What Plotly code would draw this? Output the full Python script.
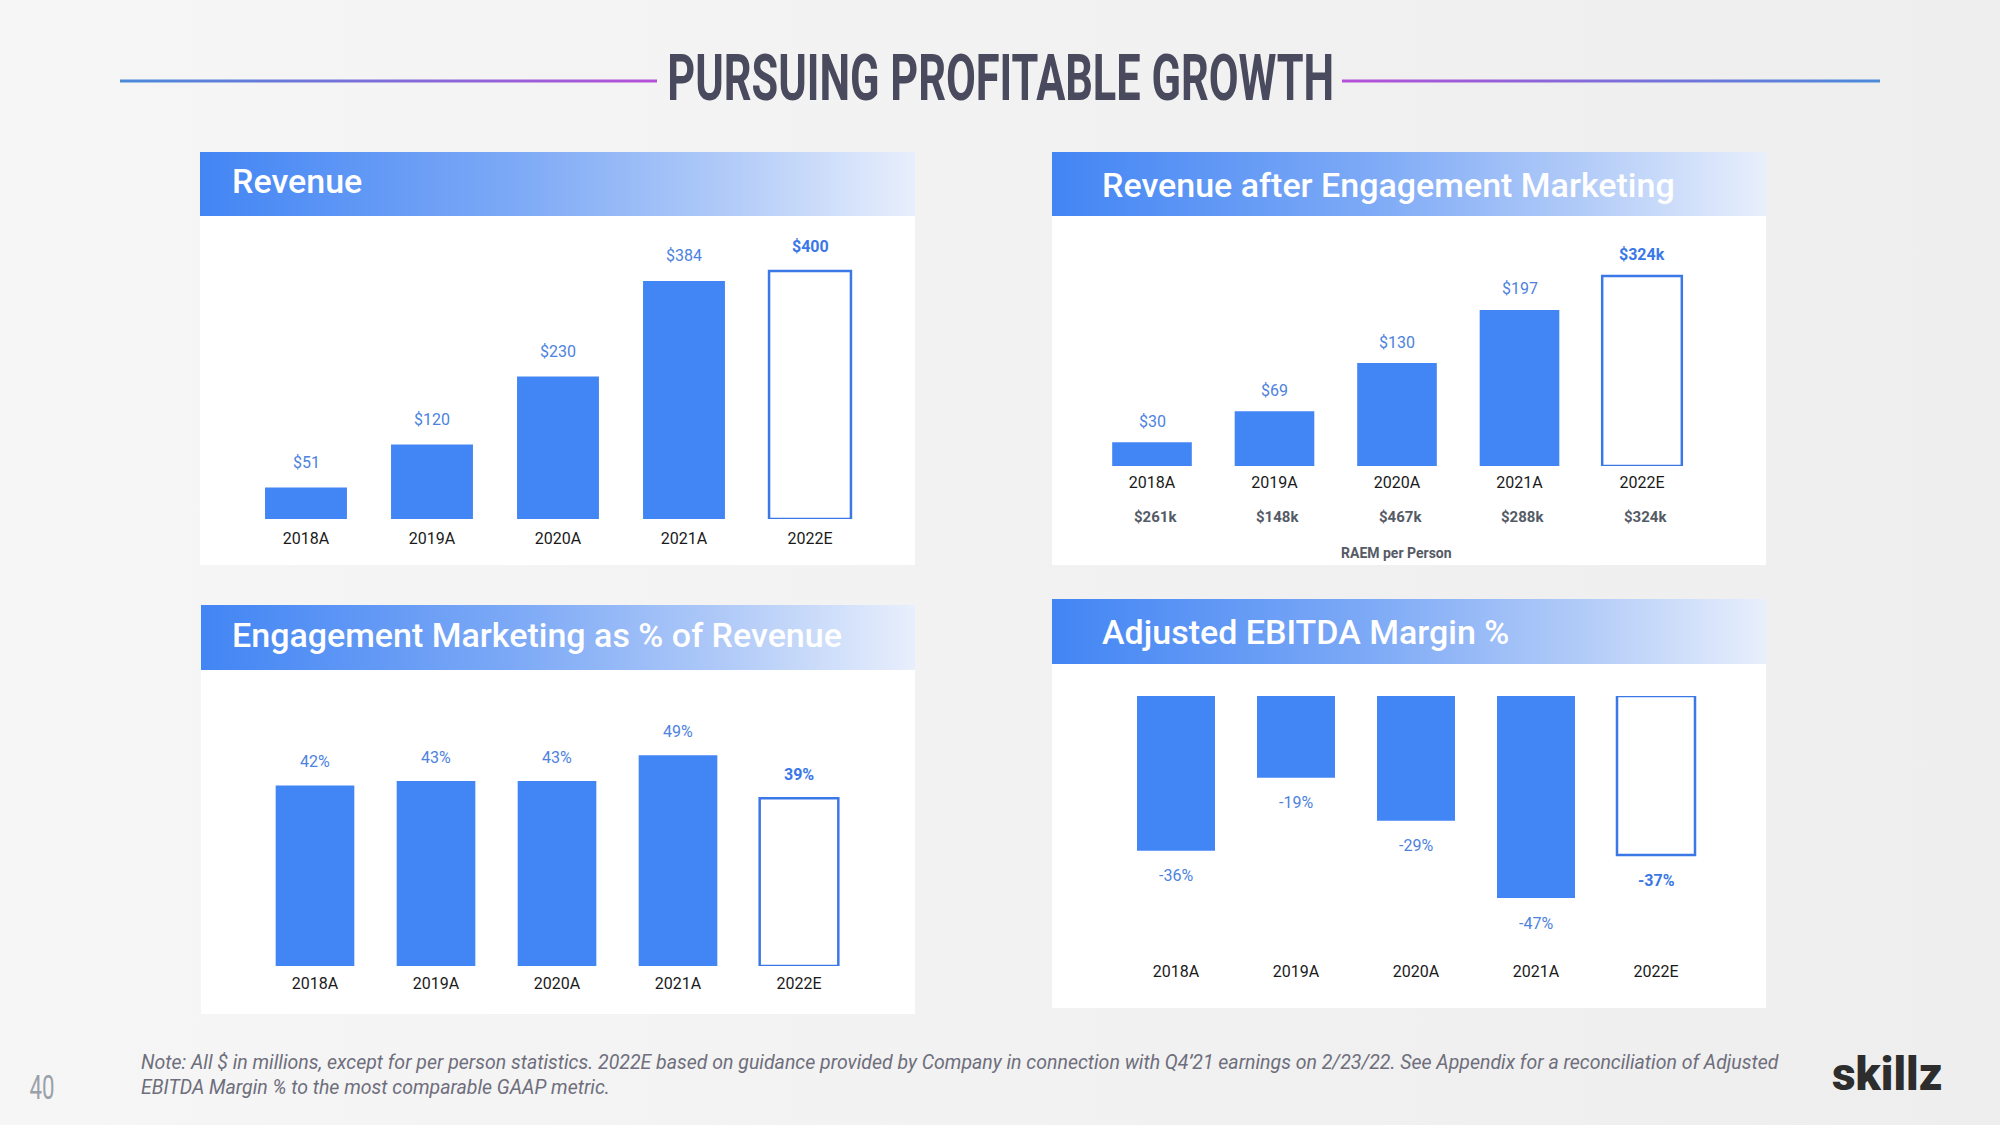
import plotly.graph_objects as go

W, H = 2000, 1125

# ---------------- data ----------------
categories = ["2018A", "2019A", "2020A", "2021A", "2022E"]
revenue = [51, 120, 230, 384, 400]
revenue_labels = ["$51", "$120", "$230", "$384", "$400"]
raem = [30, 69, 130, 197, 240]
raem_labels = ["$30", "$69", "$130", "$197", "$324k"]
raem_per_person = ["$261k", "$148k", "$467k", "$288k", "$324k"]
em_pct = [42, 43, 43, 49, 39]
em_labels = ["42%", "43%", "43%", "49%", "39%"]
ebitda_margin = [-36, -19, -29, -47, -37]
ebitda_labels = ["-36%", "-19%", "-29%", "-47%", "-37%"]

panel_titles = ["Revenue", "Revenue after Engagement Marketing",
                "Engagement Marketing as % of Revenue", "Adjusted EBITDA Margin %"]
page_title = "PURSUING PROFITABLE GROWTH"
footnote = ("Note: All $ in millions, except for per person statistics. 2022E based on guidance provided by "
            "Company in connection with Q4\u201921 earnings on 2/23/22. See Appendix for a reconciliation of Adjusted"
            "<br>EBITDA Margin % to the most comparable GAAP metric.")

# ---------------- style ----------------
BLUE = "#4285f4"
OUTLINE = "#3b78e7"
LABEL_BLUE = "#4d82e0"
FONT = "Roboto, 'Noto Sans', sans-serif"
HEADER_SCALE = [[0, "#4285f4"], [0.45, "#7eaaf6"], [0.75, "#b3ccf8"], [1, "#e8effc"]]
LINE_SCALE_L = [[0, "#4a8bd9"], [1, "#b650d8"]]
LINE_SCALE_R = [[0, "#b650d8"], [1, "#4a8bd9"]]

fills = ["#ffffff" if c.endswith("E") else BLUE for c in categories]
lcolors = [OUTLINE if c.endswith("E") else BLUE for c in categories]
lwidths = [2.5 if c.endswith("E") else 0 for c in categories]

fig = go.Figure()


def rect(x0, y0, x1, y1, color=None, scale=None):
    kw = dict(x=[x0, x1, x1, x0, x0], y=[y0, y0, y1, y1, y0], fill="toself", mode="none",
              xaxis="x", yaxis="y", hoverinfo="skip", showlegend=False)
    if scale:
        kw["fillgradient"] = dict(type="horizontal", colorscale=scale)
    else:
        kw["fillcolor"] = color
    fig.add_trace(go.Scatter(**kw))


# background + panels on a full-page canvas
rect(0, 0, W, H, scale=[[0, "#f6f6f6"], [0.6, "#f1f1f1"], [1, "#eeeeee"]])
panels = [  # (x0, header_top, header_bottom, body_bottom, x1)
    (200, 152, 216, 565, 915),
    (1052, 152, 216, 565, 1766),
    (201, 605, 670, 1014, 915),
    (1052, 599, 664, 1008, 1766),
]
for (x0, ht, hb, bb, x1) in panels:
    rect(x0, hb, x1, bb, color="#ffffff")
    rect(x0, ht, x1, hb, scale=HEADER_SCALE)
# title rule lines
rect(120, 79.5, 657, 82.5, scale=LINE_SCALE_L)
rect(1342, 79.5, 1880, 82.5, scale=LINE_SCALE_R)


def xdom(c0, step):
    return [(c0 - step / 2) / W, (c0 + step * 4.5) / W]


def ydom(ptop, pbot):
    return [1 - pbot / H, 1 - ptop / H]


# subplot geometry
geo = {
    2: dict(c0=306, step=126, top=519 - 420 * 0.62, bot=519, rng=[0, 420]),
    3: dict(c0=1152, step=122.5, top=466 - 300 * 0.792, bot=466, rng=[0, 300]),
    4: dict(c0=315, step=121, top=966 - 60 * 4.3, bot=966, rng=[0, 60]),
    5: dict(c0=1176, step=120, top=696, bot=696 + 60 * 4.3, rng=[-60, 0]),
}
series = {2: revenue, 3: raem, 4: em_pct, 5: ebitda_margin}
labels = {2: revenue_labels, 3: raem_labels, 4: em_labels, 5: ebitda_labels}
shifts = {2: 25, 3: 21, 4: 24, 5: -25}
standoff = {2: 8, 3: 5, 4: 6, 5: 6}

annotations = []
layout_axes = dict(
    xaxis=dict(domain=[0, 1], range=[0, W], visible=False, fixedrange=True),
    yaxis=dict(domain=[0, 1], range=[H, 0], visible=False, fixedrange=True),
)
for i in (2, 3, 4, 5):
    g = geo[i]
    fig.add_trace(go.Bar(
        x=categories, y=series[i], xaxis=f"x{i}", yaxis=f"y{i}",
        marker=dict(color=fills, line=dict(color=lcolors, width=lwidths)),
        hoverinfo="skip", showlegend=False))
    layout_axes[f"xaxis{i}"] = dict(
        domain=xdom(g["c0"], g["step"]), anchor=f"y{i}", showline=False, showgrid=False,
        zeroline=False, ticks="", ticklabelstandoff=standoff[i],
        tickfont=dict(family=FONT, size=16, color="#1a1a1a"), fixedrange=True)
    layout_axes[f"yaxis{i}"] = dict(
        domain=ydom(g["top"], g["bot"]), anchor=f"x{i}", range=g["rng"], visible=False,
        fixedrange=True)
    for c, v, t in zip(categories, series[i], labels[i]):
        est = c.endswith("E")
        annotations.append(dict(
            x=c, y=v, xref=f"x{i}", yref=f"y{i}", text=t, showarrow=False,
            xanchor="center", yanchor="middle", yshift=shifts[i],
            font=dict(family=FONT, size=16,
                      color=OUTLINE if est else LABEL_BLUE,
                      weight=700 if est else 400)))

# RAEM per person row
for c, t in zip(categories, raem_per_person):
    annotations.append(dict(x=c, y=1 - 517 / H, xref="x3", yref="paper", xshift=3, text=t,
                            showarrow=False, xanchor="center", yanchor="middle",
                            font=dict(family=FONT, size=15, color="#555b66", weight=700)))
annotations.append(dict(x=1396 / W, y=1 - 553 / H, xref="paper", yref="paper", text="RAEM per Person",
                        showarrow=False, xanchor="center", yanchor="middle",
                        font=dict(family=FONT, size=14, color="#555b66", weight=700)))

# panel header titles
header_pos = [(230, 181), (1100, 185), (230, 635), (1100, 632)]
for (px, py), t in zip(header_pos, panel_titles):
    annotations.append(dict(x=px / W, y=1 - py / H, xref="paper", yref="paper", text=t,
                            showarrow=False, xanchor="left", yanchor="middle",
                            font=dict(family=FONT, size=34, color="#ffffff", weight=500)))

# page title
annotations.append(dict(x=0.5, y=1 - 78 / H, xref="paper", yref="paper", text=page_title,
                        showarrow=False, xanchor="center", yanchor="middle",
                        font=dict(family="Roboto, sans-serif", size=64, color="#4a4a5e", weight=700)))
# footnote
annotations.append(dict(x=139 / W, y=1 - 1075 / H, xref="paper", yref="paper", text=footnote,
                        showarrow=False, xanchor="left", yanchor="middle", align="left",
                        font=dict(family=FONT, size=19.5, color="#6e6e7c", style="italic")))
# page number
annotations.append(dict(x=42 / W, y=1 - 1087 / H, xref="paper", yref="paper", text="40",
                        showarrow=False, xanchor="center", yanchor="middle",
                        font=dict(family="Roboto, sans-serif", size=34, color="#9aa0aa")))
# logo
annotations.append(dict(x=1887 / W, y=1 - 1074 / H, xref="paper", yref="paper", text="skillz",
                        showarrow=False, xanchor="center", yanchor="middle",
                        font=dict(family="Roboto, sans-serif", size=46, color="#2d2d2d", weight=900)))

fig.update_layout(
    width=W, height=H, margin=dict(l=0, r=0, t=0, b=0),
    paper_bgcolor="#f2f2f2", plot_bgcolor="rgba(0,0,0,0)",
    bargap=0.35, showlegend=False, annotations=annotations,
    **layout_axes)

# remove default page margin; condense the title (Oswald-like) and page number horizontally
post_js = """
document.body.style.margin = '0';
document.body.style.overflow = 'hidden';
var gd = document.getElementById('{plot_id}');
function squeeze(prefix, targetW) {
  gd.querySelectorAll('text.annotation-text').forEach(function (t) {
    if (t.textContent === prefix || t.textContent.indexOf(prefix) === 0 && prefix.length > 2) {
      var bb = t.getBBox();
      var cx = bb.x + bb.width / 2, cy = bb.y + bb.height / 2;
      var sx = targetW / bb.width;
      t.setAttribute('transform', 'translate(' + cx + ',' + cy + ') scale(' + sx + ',1) translate(' + (-cx) + ',' + (-cy) + ')');
    }
  });
}
squeeze('PURSUING', 667);
squeeze('40', 25);
"""

fig.write_html("out.html", post_script=post_js, config={"displayModeBar": False})
